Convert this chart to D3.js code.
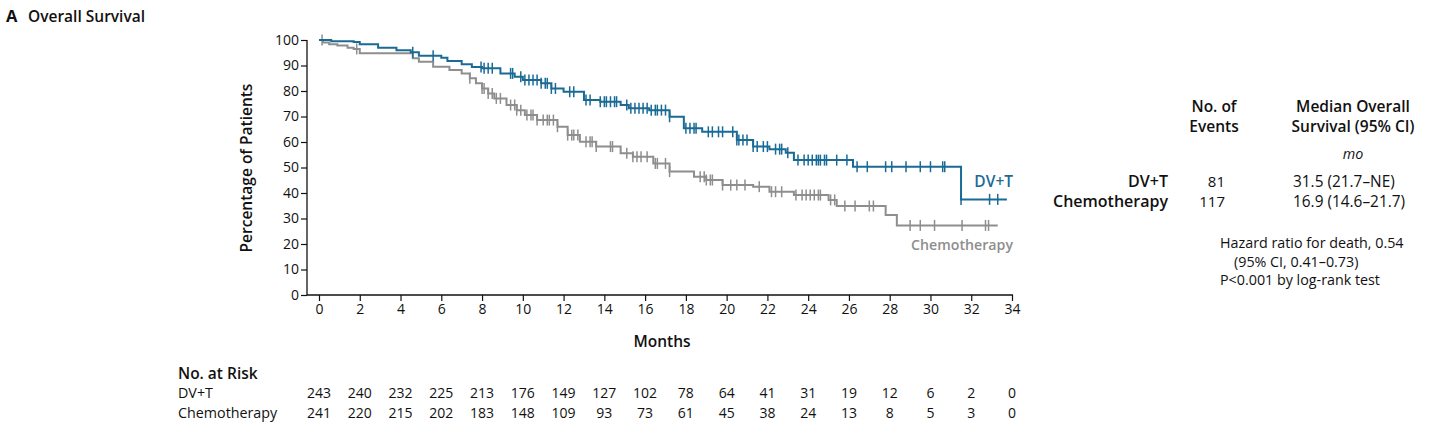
<!DOCTYPE html>
<html><head><meta charset="utf-8">
<script src="https://cdn.jsdelivr.net/npm/d3@7/dist/d3.min.js"></script>
<style>
body{margin:0;background:#fff;}
svg{display:block;}
text{font-family:"Open Sans","Noto Sans",sans-serif;fill:#111;}
</style></head><body>
<svg id="c" width="1456" height="435"></svg>
<script>
// ---------- data ----------
const monthTicks = d3.range(0, 35, 2);
const pctTicks = d3.range(0, 101, 10);
const groups = ["DV+T", "Chemotherapy"];
// Kaplan-Meier steps: [month, percent]
const dvtSteps = [[0,100],[0.6,99.5],[1.7,99.2],[2.0,98.3],[2.9,97],[3.8,96],[4.5,95.2],[4.9,93.8],[6.0,93],[6.3,91.8],[7.0,90.5],[7.5,89.4],[8.0,88.9],[8.9,86.9],[9.6,85.6],[10.0,84.3],[10.9,83],[11.4,81],[12.0,79.7],[13.0,76.5],[13.8,75.8],[14.8,74.5],[15.2,73.2],[16.2,72.5],[17.2,69.9],[17.9,65.4],[18.8,64],[20.5,60.8],[21.3,58.2],[22.1,57.2],[22.9,55.8],[23.3,52.9],[26.2,50.3],[31.5,37.5],[33.75,37.5]];
const chemoSteps = [[0,100],[0.2,99],[0.5,98.3],[0.9,97.8],[1.4,97],[1.7,96.5],[2.0,94.8],[4.6,92.8],[4.9,91.5],[5.6,89.5],[6.4,88.2],[7.0,86.9],[7.4,85],[7.7,83],[8.0,81],[8.3,79],[8.6,77.1],[9.2,74.5],[9.7,72.5],[10.1,70.6],[10.7,68.6],[11.7,66],[12.2,62.7],[12.8,60.1],[13.6,58.2],[14.8,55.6],[15.4,54.2],[16.4,51.6],[17.2,48.4],[18.4,46.4],[19.0,45.1],[19.8,43.1],[21.3,42.5],[22.1,40.5],[23.3,39.2],[25.0,37.3],[25.4,34.9],[27.8,31.4],[28.35,27.3],[33.3,27.3]];
// censored observations (months)
const dvtCensor = [4.6,5.6,7.95,8.1,8.3,8.5,9.4,9.5,9.9,10.1,10.3,10.5,10.7,10.9,11.1,11.2,11.4,11.6,12.3,12.5,13.1,13.3,13.8,14.0,14.1,14.3,14.5,14.6,15.1,15.3,15.5,15.7,15.9,16.1,16.3,16.5,16.6,16.8,17.0,17.2,18.0,18.2,18.4,18.5,19.1,19.3,19.6,19.8,20.3,20.5,20.6,20.8,21.0,21.3,21.5,21.8,22.0,22.4,22.6,22.7,23.0,23.5,23.8,24.0,24.2,24.4,24.5,24.6,24.8,24.9,25.4,25.9,26.4,26.9,27.8,28.1,28.8,29.5,30.0,30.6,30.7,31.5,32.9,33.3];
const chemoCensor = [0.15,1.85,7.4,8.0,8.1,8.3,8.5,8.7,8.9,9.4,9.6,9.7,9.9,10.2,10.4,10.5,10.7,11.0,11.2,11.3,11.5,11.7,12.2,12.4,12.5,12.7,13.1,13.3,13.4,13.6,14.3,14.4,15.1,15.4,15.6,15.8,16.1,16.5,16.6,17.0,17.2,18.7,18.9,19.0,19.2,19.3,19.8,20.2,20.5,20.9,21.6,22.2,22.4,22.7,23.4,23.7,23.9,24.1,24.3,24.5,24.6,25.1,25.3,25.8,26.3,27.0,27.2,29.0,29.5,30.2,31.55,32.7,32.85];
const riskDVT = [243,240,232,225,213,176,149,127,102,78,64,41,31,19,12,6,2,0];
const riskChemo = [241,220,215,202,183,148,109,93,73,61,45,38,24,13,8,5,3,0];
const events = [81, 117];
const medians = ["31.5 (21.7\u2013NE)", "16.9 (14.6\u201321.7)"];
const hazardLines = ["Hazard ratio for death, 0.54", "(95% CI, 0.41\u20130.73)", "P<0.001 by log-rank test"];

// ---------- drawing ----------
const BLUE = "#1a6a96", GRAY = "#8e8e8e";
const BOLD = 15.5, NORM = 14.3;
const svg = d3.select("#c");
const x = d3.scaleLinear().domain([0, 34]).range([319, 1012]);
const y = d3.scaleLinear().domain([0, 100]).range([295, 40]);

svg.append("text").attr("x", 6).attr("y", 22).attr("font-size", 16.5).attr("font-weight", 700).text("A");
svg.append("text").attr("x", 28).attr("y", 22).attr("font-size", BOLD).attr("font-weight", 600).text("Overall Survival");

// axes
const yAx = svg.append("g").attr("transform", "translate(307,0)")
  .call(d3.axisLeft(y).tickValues(pctTicks).tickSize(6).tickSizeOuter(0).tickPadding(2));
yAx.select(".domain").remove();
yAx.selectAll("line").attr("stroke", "#111").attr("stroke-width", 1.2);
yAx.selectAll("text").attr("font-size", 14).attr("font-family", "Open Sans").attr("fill", "#111");
svg.append("line").attr("x1", 307).attr("x2", 307).attr("y1", y(100)).attr("y2", y(0)).attr("stroke", "#111").attr("stroke-width", 1.3);

const xAx = svg.append("g").attr("transform", "translate(0,295)")
  .call(d3.axisBottom(x).tickValues(monthTicks).tickSize(6).tickSizeOuter(0).tickPadding(3));
xAx.select(".domain").remove();
xAx.selectAll("line").attr("stroke", "#111").attr("stroke-width", 1.2);
xAx.selectAll("text").attr("font-size", 14).attr("font-family", "Open Sans").attr("fill", "#111");
svg.append("line").attr("x1", 307).attr("x2", x(34) + 1).attr("y1", 295).attr("y2", 295).attr("stroke", "#111").attr("stroke-width", 1.3);

svg.append("text").attr("transform", "translate(252,168) rotate(-90)").attr("text-anchor", "middle")
  .attr("font-size", BOLD).attr("font-weight", 600).text("Percentage of Patients");
svg.append("text").attr("x", 662).attr("y", 347).attr("text-anchor", "middle")
  .attr("font-size", BOLD).attr("font-weight", 600).text("Months");

// curves
const line = d3.line().x(d => x(d[0])).y(d => y(d[1])).curve(d3.curveStepAfter);
function survAt(steps, t) {
  let v = steps[0][1];
  for (const s of steps) { if (s[0] <= t) v = s[1]; else break; }
  return v;
}
function drawCurve(steps, cens, color) {
  svg.append("path").datum(steps).attr("d", line).attr("fill", "none").attr("stroke", color).attr("stroke-width", 2);
  svg.append("g").selectAll("line").data(cens).join("line")
    .attr("x1", d => x(d)).attr("x2", d => x(d))
    .attr("y1", d => y(survAt(steps, d)) - 5.5).attr("y2", d => y(survAt(steps, d)) + 5.5)
    .attr("stroke", color).attr("stroke-width", 1.5);
}
drawCurve(chemoSteps, chemoCensor, GRAY);
drawCurve(dvtSteps, dvtCensor, BLUE);

svg.append("text").attr("x", 1013).attr("y", 187).attr("text-anchor", "end").attr("font-size", BOLD)
  .attr("font-weight", 600).style("fill", BLUE).text("DV+T");
svg.append("text").attr("x", 1013).attr("y", 250).attr("text-anchor", "end").attr("font-size", 14.2)
  .attr("font-weight", 600).style("fill", GRAY).text("Chemotherapy");

// number at risk
svg.append("text").attr("x", 178).attr("y", 379).attr("font-size", BOLD).attr("font-weight", 600).text("No. at Risk");
[riskDVT, riskChemo].forEach((arr, i) => {
  const yy = 398 + i * 20;
  svg.append("text").attr("x", 178).attr("y", yy).attr("font-size", NORM).text(groups[i]);
  svg.append("g").selectAll("text").data(arr).join("text")
    .attr("x", (d, j) => x(monthTicks[j])).attr("y", yy).attr("text-anchor", "middle")
    .attr("font-size", 14).text(d => d);
});

// right table
const colE = 1214, colM = 1353;
[["No. of", "Events", colE], ["Median Overall", "Survival (95% CI)", colM]].forEach(h => {
  svg.append("text").attr("x", h[2]).attr("y", 112).attr("text-anchor", "middle").attr("font-size", BOLD).attr("font-weight", 600).text(h[0]);
  svg.append("text").attr("x", h[2]).attr("y", 132).attr("text-anchor", "middle").attr("font-size", BOLD).attr("font-weight", 600).text(h[1]);
});
svg.append("text").attr("x", colM).attr("y", 159).attr("text-anchor", "middle").attr("font-size", NORM).attr("font-style", "italic").text("mo");
groups.forEach((g, i) => {
  const yy = 187 + i * 20;
  svg.append("text").attr("x", 1168).attr("y", yy).attr("text-anchor", "end").attr("font-size", 16).attr("font-weight", 600).text(g);
  svg.append("text").attr("x", 1225).attr("y", yy).attr("text-anchor", "end").attr("font-size", 15).text(events[i]);
  svg.append("text").attr("x", 1293).attr("y", yy).attr("font-size", 15.4).text(medians[i]);
});
const hx = [1220, 1234, 1220];
hazardLines.forEach((t, i) => {
  svg.append("text").attr("x", hx[i]).attr("y", 248 + i * 18.5).attr("font-size", NORM).text(t);
});
</script>
</body></html>
